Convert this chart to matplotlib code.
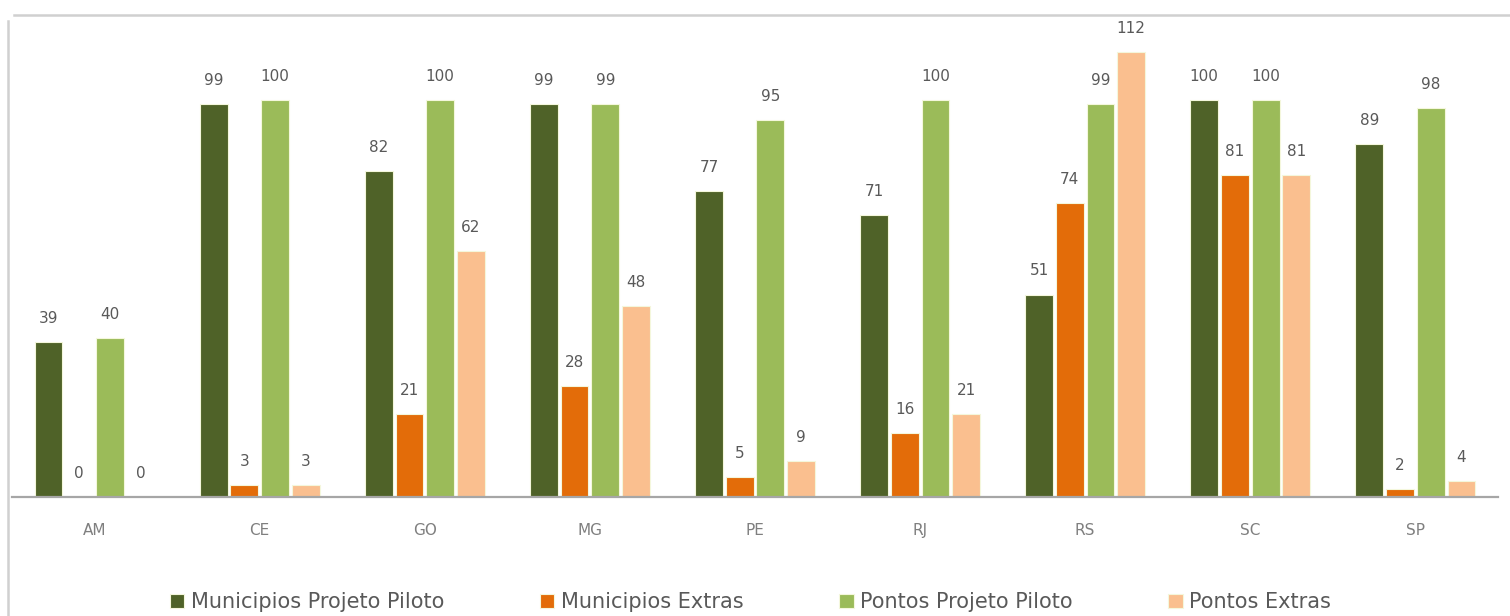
import matplotlib.pyplot as plt
import numpy as np
from matplotlib.lines import Line2D

# datos
estados = ['AM', 'CE', 'GO', 'MG', 'PE', 'RJ', 'RS', 'SC', 'SP']
series = ['Municipios Projeto Piloto', 'Municipios Extras',
          'Pontos Projeto Piloto', 'Pontos Extras']
mun_piloto = [39, 99, 82, 99, 77, 71, 51, 100, 89]
mun_extras = [0, 3, 21, 28, 5, 16, 74, 81, 2]
pontos_piloto = [40, 100, 100, 99, 95, 100, 99, 100, 98]
pontos_extras = [0, 3, 62, 48, 9, 21, 112, 81, 4]

colores = ['#4f6228', '#e36c09', '#9bbb59', '#fabf8f']
valores = [mun_piloto, mun_extras, pontos_piloto, pontos_extras]

fig = plt.figure(figsize=(15.1, 6.16), dpi=100)
ax = fig.add_axes([0.008, 0.1932, 0.984, 0.7734])

# marco del grafico (solo arriba e izquierda, el resto queda fuera)
x0 = 8 / 1510
y0 = (616 - 15) / 616
fig.add_artist(Line2D([x0 + 0.004, 1.0], [y0, y0], transform=fig.transFigure,
                      color='#d0d0d0', linewidth=1.8))
fig.add_artist(Line2D([x0, x0], [0.0, y0 - 0.01], transform=fig.transFigure,
                      color='#d0d0d0', linewidth=1.8))

x = np.arange(len(estados))
paso = 0.186
ancho = 0.168
for i, (vals, col, nombre) in enumerate(zip(valores, colores, series)):
    pos = x + (i - 1.5) * paso
    ax.bar(pos, vals, width=ancho, color=col, label=nombre,
           edgecolor='#f4f7dc', linewidth=0.8, zorder=2)
    for xb, v in zip(pos, vals):
        ax.annotate(str(v), (xb, v), xytext=(0, 17), textcoords='offset points',
                    ha='center', va='center', fontsize=11, color='#595959',
                    annotation_clip=False)

ax.set_xlim(-0.5, 8.5)
ax.set_ylim(0, 120)
ax.set_yticks([])
ax.set_xticks(x)
ax.set_xticklabels(estados, fontsize=11, color='#7f7f7f')
ax.tick_params(axis='x', length=0, pad=19)
for lado in ['top', 'right', 'left']:
    ax.spines[lado].set_visible(False)
ax.spines['bottom'].set_color('#a6a6a6')
ax.spines['bottom'].set_linewidth(1.6)

fig.legend(loc='center', bbox_to_anchor=(0.497, 0.022), ncol=4, frameon=False,
           fontsize=15, labelcolor='#595959', handlelength=0.7, handleheight=0.7,
           handletextpad=0.3, columnspacing=4.6)

fig.savefig('out.png', dpi=100)
